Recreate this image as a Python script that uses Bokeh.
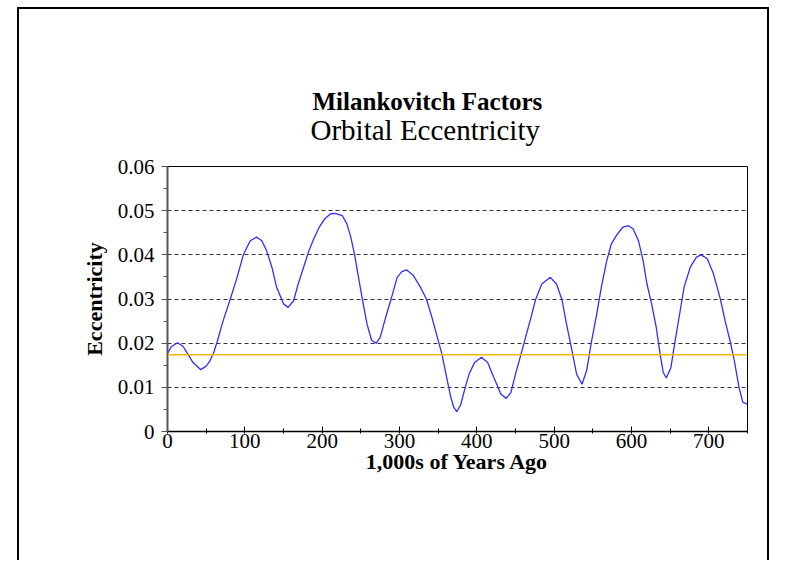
from bokeh.plotting import figure
from bokeh.models import Title, Span, FixedTicker, NumeralTickFormatter
from bokeh.embed import file_html
from bokeh.resources import INLINE

title_main = "Milankovitch Factors"
title_sub = "Orbital Eccentricity"
x_label = "1,000s of Years Ago"
y_label = "Eccentricity"

years = [0, 5, 13, 20, 25, 33, 43, 50, 55, 60, 64, 72, 81, 90, 98, 107, 115, 122, 128, 135,
         141, 150, 156, 163, 169, 176, 182, 189, 196, 203, 211, 217, 226, 232, 237, 242, 247,
         252, 258, 264, 270, 275, 282, 289, 297, 303, 309, 318, 327, 335, 342, 351, 355, 361,
         366, 370, 374, 379, 385, 390, 397, 406, 414, 422, 431, 438, 444, 450, 457, 463, 470,
         476, 484, 495, 503, 510, 516, 523, 529, 536, 542, 548, 555, 561, 568, 574, 581, 589,
         596, 602, 609, 615, 620, 626, 632, 637, 641, 645, 651, 656, 663, 668, 676, 684, 690,
         698, 706, 715, 721, 728, 733, 739, 744, 750]
eccentricity = [0.0177, 0.0192, 0.0201, 0.0193, 0.0179, 0.0156, 0.0140, 0.0148, 0.0160, 0.0180,
                0.0202, 0.0251, 0.0299, 0.0349, 0.0400, 0.0432, 0.0440, 0.0432, 0.0410, 0.0372,
                0.0327, 0.0289, 0.0281, 0.0296, 0.0334, 0.0372, 0.0405, 0.0436, 0.0462, 0.0481,
                0.0493, 0.0494, 0.0489, 0.0470, 0.0440, 0.0400, 0.0349, 0.0299, 0.0243, 0.0206,
                0.0200, 0.0213, 0.0258, 0.0299, 0.0349, 0.0362, 0.0366, 0.0353, 0.0327, 0.0299,
                0.0258, 0.0200, 0.0174, 0.0122, 0.0080, 0.0055, 0.0045, 0.0060, 0.0100, 0.0130,
                0.0156, 0.0168, 0.0156, 0.0122, 0.0085, 0.0075, 0.0088, 0.0130, 0.0174, 0.0213,
                0.0258, 0.0299, 0.0334, 0.0349, 0.0334, 0.0299, 0.0243, 0.0183, 0.0130, 0.0107,
                0.0138, 0.0201, 0.0266, 0.0327, 0.0387, 0.0425, 0.0445, 0.0463, 0.0466, 0.0459,
                0.0432, 0.0387, 0.0334, 0.0289, 0.0236, 0.0175, 0.0134, 0.0121, 0.0145, 0.0201,
                0.0274, 0.0327, 0.0372, 0.0395, 0.0400, 0.0391, 0.0357, 0.0299, 0.0251, 0.0201,
                0.0160, 0.0100, 0.0066, 0.0062]
present_value = 0.0174

x_ticks = [0, 100, 200, 300, 400, 500, 600, 700]
x_minor = [50, 150, 250, 350, 450, 550, 650, 750]
y_ticks = [0, 0.01, 0.02, 0.03, 0.04, 0.05, 0.06]
y_minor = [0.005, 0.015, 0.025, 0.035, 0.045, 0.055]

SERIF = "Liberation Serif"

p = figure(width=752, height=553, x_range=(0, 750), y_range=(0, 0.06),
           output_backend="svg", toolbar_location=None,
           min_border_left=148, min_border_right=24, min_border_top=157, min_border_bottom=131)
p.margin = (7, 0, 0, 17)
p.styles = {"border-left": "2px solid black", "border-top": "2px solid black",
            "border-right": "2px solid black"}

p.add_layout(Title(text=title_sub, align="left", offset=143, text_font=SERIF,
                   text_font_size="29px", text_font_style="normal", text_color="black",
                   standoff=42), "above")
p.add_layout(Title(text=title_main, align="left", offset=145, text_font=SERIF,
                   text_font_size="25px", text_font_style="bold", text_color="black",
                   standoff=-48), "above")

p.background_fill_color = "white"
p.border_fill_color = "white"
p.outline_line_color = "black"
p.outline_line_width = 1

p.xgrid.visible = False
p.ygrid.ticker = FixedTicker(ticks=[0.01, 0.02, 0.03, 0.04, 0.05])
p.ygrid.grid_line_color = "#333333"
p.ygrid.grid_line_dash = "4 3"
p.ygrid.grid_line_width = 1

xa = p.xaxis[0]
xa.ticker = FixedTicker(ticks=x_ticks, minor_ticks=x_minor)
xa.axis_label = x_label
xa.axis_label_text_font = SERIF
xa.axis_label_text_font_size = "22px"
xa.axis_label_text_font_style = "bold"
xa.axis_label_text_color = "black"
xa.axis_label_standoff = -2
xa.major_label_text_font = SERIF
xa.major_label_text_font_size = "21px"
xa.major_label_text_color = "black"
xa.major_label_standoff = 0
xa.axis_line_color = "black"
xa.axis_line_width = 1.5
xa.major_tick_line_color = "black"
xa.minor_tick_line_color = "black"
xa.major_tick_in = 5
xa.major_tick_out = 2
xa.minor_tick_in = 3
xa.minor_tick_out = 2

ya = p.yaxis[0]
ya.ticker = FixedTicker(ticks=y_ticks, minor_ticks=y_minor)
ya.formatter = NumeralTickFormatter(format="0.[00]")
ya.axis_label = y_label
ya.axis_label_text_font = SERIF
ya.axis_label_text_font_size = "22px"
ya.axis_label_text_font_style = "bold"
ya.axis_label_text_color = "black"
ya.axis_label_standoff = 8
ya.major_label_text_font = SERIF
ya.major_label_text_font_size = "21px"
ya.major_label_text_color = "black"
ya.major_label_standoff = 7
ya.axis_line_color = "#555555"
ya.axis_line_width = 2
ya.major_tick_line_color = "#555555"
ya.minor_tick_line_color = "#555555"
ya.major_tick_in = 0
ya.major_tick_out = 6
ya.minor_tick_in = 0
ya.minor_tick_out = 4

p.add_layout(Span(location=present_value, dimension="width", line_color="#f2b800", line_width=1.5))
p.line(years, eccentricity, line_color="#3030ff", line_width=1.3)

open("out.html", "w").write(file_html(p, INLINE))
